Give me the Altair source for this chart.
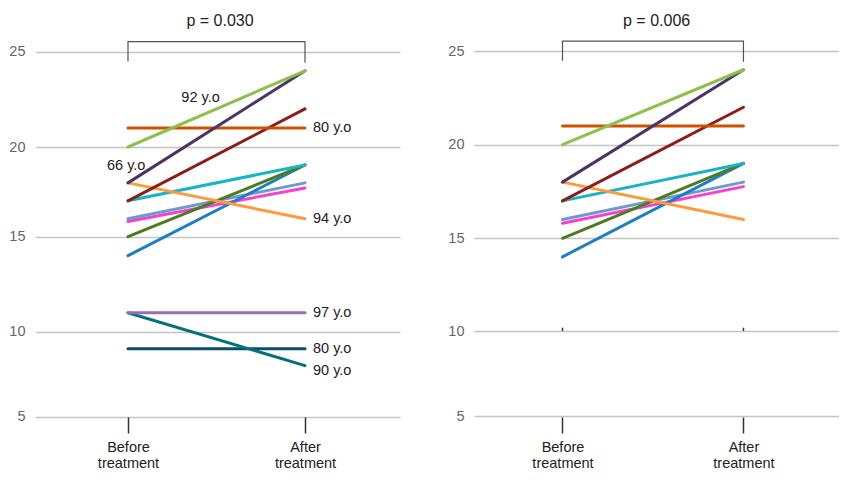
import altair as alt
import pandas as pd

# ---------------- data ----------------
stage_labels = ["Before\ntreatment", "After\ntreatment"]
stages = [0, 1]

subjects = ["A", "B", "C", "D", "E", "F", "G", "H", "I", "J", "K", "L", "M"]
subject_colors = ["#0c4d6c", "#00727a", "#9a6db2", "#f53fd5", "#6b9bcb", "#1f7fc1",
                  "#4f7b1f", "#17b3c7", "#ff9a3c", "#8b1d1a", "#cc5200", "#4a3564", "#8cbf4c"]
subject_widths = [3, 3, 3, 2, 4, 3, 3, 3, 3, 3, 3, 3, 3]

left_subjects = subjects
left_before = [9, 11, 11, 15.85, 16, 14, 15, 17, 18, 17, 21, 18, 20]
left_after = [9, 8, 11, 17.72, 18, 19, 19, 19, 16, 22, 21, 24, 24]

right_subjects = ["D", "E", "F", "G", "H", "I", "J", "K", "L", "M"]
right_before = [15.8, 16, 14, 15, 17, 18, 17, 21, 18, 20]
right_after = [17.76, 18, 19, 19, 19, 16, 22, 21, 24, 24]

left_p = "p = 0.030"
right_p = "p = 0.006"

inner_label_text = ["92 y.o", "66 y.o"]
inner_label_x = [0.41, -0.01]
inner_label_y = [22.55, 18.93]

end_label_text = ["80 y.o", "94 y.o", "97 y.o", "80 y.o", "90 y.o"]
end_label_y = [21, 16, 11, 9, 7.7]

bracket_x = [0, 0, 1, 1]
bracket_y = [24.48, 25.56, 25.56, 24.42]
p_label_y = 26.7
p_label_x = 0.52

y_ticks = [5, 10, 15, 20, 25]
y_breaks = [5, 10, 15, 20, 25, 27.42]
left_y_range = [408.5, 323.7, 228.7, 139, 43.7, 0]
right_y_range = [408, 323, 230.3, 136.7, 43, 0]

tiny_tick_x = [0, 1]

# ---------------- helpers ----------------
def lines_df(subj, before, after):
    rows = []
    for s, b, a in zip(subj, before, after):
        rows.append({"subject": s, "stage": stages[0], "value": b})
        rows.append({"subject": s, "stage": stages[1], "value": a})
    return pd.DataFrame(rows)


parts = [lab.split("\n") for lab in stage_labels]
label_expr = "datum.value == 0 ? [{}] : [{}]".format(
    ", ".join("'%s'" % p for p in parts[0]),
    ", ".join("'%s'" % p for p in parts[1]),
)


def panel(df, p_text, xdomain, yrange, width, with_labels, with_tiny):
    xs = alt.Scale(domain=xdomain, nice=False, zero=False)
    ys = alt.Scale(domain=y_breaks, range=yrange, nice=False, zero=False)
    x_axis = alt.Axis(values=stages, labelExpr=label_expr, grid=False, domain=False,
                      tickSize=16, tickWidth=1.5, tickColor="#333333",
                      labelFontSize=14.5, labelColor="#222222", labelPadding=7,
                      labelLineHeight=16, title=None)
    y_axis = alt.Axis(values=y_ticks, grid=True, gridColor="#c4c4c4", gridWidth=1.4,
                      ticks=False, domain=False, labelFontSize=14.5, labelColor="#666666",
                      labelPadding=10, title=None)

    base_lines = alt.Chart(df).mark_line(strokeCap="round").encode(
        x=alt.X("stage:Q", scale=xs, axis=x_axis),
        y=alt.Y("value:Q", scale=ys, axis=y_axis),
        color=alt.Color("subject:N", scale=alt.Scale(domain=subjects, range=subject_colors), legend=None),
        strokeWidth=alt.StrokeWidth("subject:N", scale=alt.Scale(domain=subjects, range=subject_widths), legend=None),
        detail="subject:N",
    )

    bdf = pd.DataFrame({"x": bracket_x, "y": bracket_y, "o": list(range(len(bracket_x)))})
    bracket = alt.Chart(bdf).mark_line(color="#555555", strokeWidth=1.2).encode(
        x=alt.X("x:Q", scale=xs), y=alt.Y("y:Q", scale=ys), order="o:Q")

    pdf = pd.DataFrame({"x": [p_label_x], "y": [p_label_y], "t": [p_text]})
    ptext = alt.Chart(pdf).mark_text(fontSize=16, color="#222222", align="center", baseline="middle").encode(
        x=alt.X("x:Q", scale=xs), y=alt.Y("y:Q", scale=ys), text="t:N")

    layers = [base_lines, bracket, ptext]

    if with_tiny:
        tdf = pd.DataFrame({"x": tiny_tick_x, "y": [10] * len(tiny_tick_x), "y2": [10.18] * len(tiny_tick_x)})
        tiny = alt.Chart(tdf).mark_rule(color="#333333", strokeWidth=1.5).encode(
            x=alt.X("x:Q", scale=xs), y=alt.Y("y:Q", scale=ys), y2="y2:Q")
        layers.insert(0, tiny)

    if with_labels:
        idf = pd.DataFrame({"x": inner_label_x, "y": inner_label_y, "t": inner_label_text})
        itext = alt.Chart(idf).mark_text(fontSize=14.5, color="#222222", align="center", baseline="middle").encode(
            x=alt.X("x:Q", scale=xs), y=alt.Y("y:Q", scale=ys), text="t:N")
        edf = pd.DataFrame({"x": [1] * len(end_label_text), "y": end_label_y, "t": end_label_text})
        etext = alt.Chart(edf).mark_text(fontSize=14.5, color="#222222", align="left", baseline="middle", dx=8).encode(
            x=alt.X("x:Q", scale=xs), y=alt.Y("y:Q", scale=ys), text="t:N")
        layers += [itext, etext]

    return alt.layer(*layers).properties(width=width, height=409)


left = panel(lines_df(left_subjects, left_before, left_after), left_p,
             [-0.5254, 1.5367], left_y_range, 365, True, False)
right = panel(lines_df(right_subjects, right_before, right_after), right_p,
              [-0.489, 1.528], right_y_range, 365, False, True)

chart = alt.hconcat(left, right, spacing=47).resolve_scale(
    x="independent", y="independent", color="shared", strokeWidth="shared"
).properties(padding=0).configure(
    font="Liberation Sans", view=alt.ViewConfig(stroke=None)
)

chart.save("out.html", embed_options={"renderer": "svg", "actions": False})
